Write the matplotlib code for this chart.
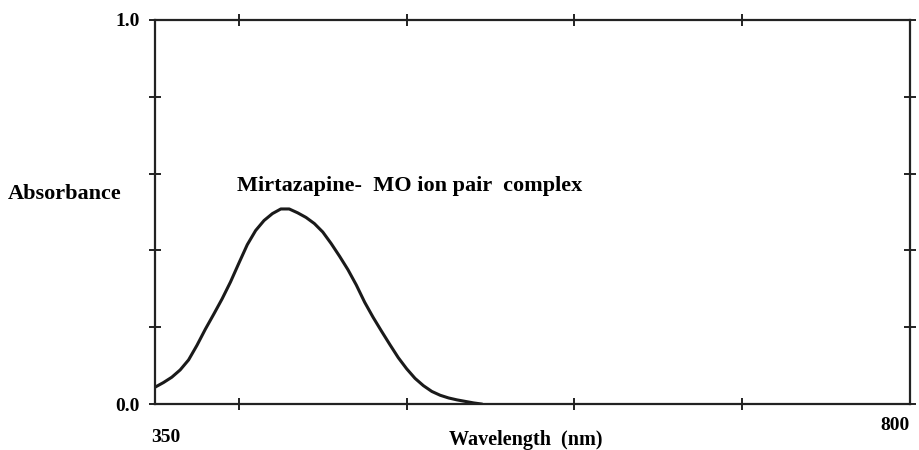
import numpy as np
import matplotlib
matplotlib.use("Agg")
import matplotlib.pyplot as plt
from matplotlib.transforms import blended_transform_factory

wavelength = [350, 355, 360, 365, 370, 375, 380, 385, 390, 395,
              400, 405, 410, 415, 420, 425, 430, 435, 440, 445,
              450, 455, 460, 465, 470, 475, 480, 485, 490, 495,
              500, 505, 510, 515, 520, 525, 530, 535, 540, 545]
absorbance = [0.044, 0.056, 0.070, 0.089, 0.115, 0.153, 0.195, 0.234, 0.274, 0.318,
              0.367, 0.415, 0.452, 0.478, 0.496, 0.508, 0.508, 0.498, 0.486, 0.470,
              0.448, 0.418, 0.385, 0.350, 0.310, 0.265, 0.226, 0.190, 0.155, 0.121,
              0.092, 0.067, 0.048, 0.033, 0.023, 0.016, 0.011, 0.007, 0.003, 0.000]

x_ticks = [400, 500, 600, 700]
y_ticks = [0.0, 0.2, 0.4, 0.6, 0.8, 1.0]
y_ticklabels = ["0.0", "", "", "", "", "1.0"]

plt.rcParams["font.family"] = ["Liberation Serif", "DejaVu Serif"]
plt.rcParams["font.weight"] = "bold"

fig = plt.figure(figsize=(9.2, 4.5), dpi=100)
ax = fig.add_axes([0.1685, 0.102, 0.8205, 0.8536])

ax.plot(wavelength, absorbance, color="#1a1a1a", lw=2.2,
        solid_joinstyle="round", solid_capstyle="round")

ax.set_xlim(350, 800)
ax.set_ylim(0, 1.0)

for s in ax.spines.values():
    s.set_linewidth(1.6)
    s.set_color("#222222")

ax.set_xticks(x_ticks)
ax.set_xticklabels([])
ax.set_yticks(y_ticks)
ax.set_yticklabels(y_ticklabels, fontsize=14, fontweight="bold")
ax.tick_params(axis="both", direction="inout", length=8, width=1.4,
               top=True, right=True, color="#222222", pad=7)

tr = blended_transform_factory(ax.transData, ax.transAxes)
ax.text(348, -0.087, "350", transform=tr, ha="left", va="center",
        fontsize=14, fontweight="bold")
ax.text(800, -0.055, "800", transform=tr, ha="right", va="center",
        fontsize=14, fontweight="bold")

fig.text(0.009, 0.568, "Absorbance", ha="left", va="center",
         fontsize=16, fontweight="bold")
fig.text(0.571, 0.022, "Wavelength  (nm)", ha="center", va="center",
         fontsize=14.5, fontweight="bold")
ax.text(399, 0.567, "Mirtazapine-  MO ion pair  complex", ha="left", va="center",
        fontsize=16, fontweight="bold")

fig.savefig("out.png", dpi=100)
